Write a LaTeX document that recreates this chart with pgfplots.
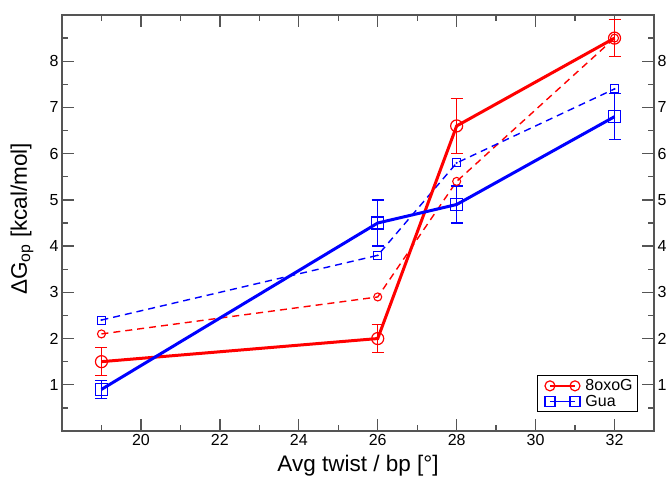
\documentclass[border=0pt]{standalone}
\usepackage{pgfplots}
\pgfplotsset{compat=1.18}
\usepackage{fontspec}
\setmainfont{Liberation Sans}
\definecolor{axgray}{HTML}{555555}
\begin{document}
\begin{tikzpicture}[x=1pt,y=1pt]
\useasboundingbox (0,0) rectangle (670,478);
\pgfplotsset{
  common/.style={
    at={(62pt,47pt)}, anchor=south west, scale only axis,
    width=592pt, height=416pt,
    xmin=18, xmax=33, ymin=0, ymax=9,
    /pgf/number format/assume math mode=true,
    tick label style={font=\fontsize{16}{16}\selectfont},
  }
}
\begin{axis}[common,
  xtick={20,22,...,32}, minor xtick={19,21,...,33},
  ytick={1,...,8}, minor ytick={0.5,1.5,...,8.5},
  tick align=inside, tick pos=both, yticklabel pos=left, xticklabel pos=lower,
  major tick length=12pt, minor tick length=6pt,
  axis line style={axgray, line width=1.3pt},
  every tick/.style={axgray, line width=1.3pt},
  minor tick style={axgray, line width=1.3pt},
  xlabel={Avg twist / bp [°]},
  ylabel={ΔG\textsubscript{op} [kcal/mol]},
  label style={font=\fontsize{22.5}{22.5}\selectfont},
  xlabel style={at={(axis description cs:0.5,0)}, anchor=base, yshift=-41pt},
  ylabel style={at={(axis description cs:0,0.51)}, anchor=center, yshift=40pt},
  legend style={at={(axis description cs:0.973,0.045)}, anchor=south east,
    draw=black, line width=0.8pt, font=\fontsize{16}{16}\selectfont,
    inner xsep=3pt, inner ysep=2pt, row sep=-1pt, cells={anchor=west}},
  legend image code/.code={\path (0pt,0pt) (40pt,0pt); \draw[#1, line width=1.5pt, mark size=5pt] plot coordinates {(8pt,0pt) (33pt,0pt)};},
]
% dashed series
\addplot[red, line width=1.4pt, dash pattern=on 7pt off 5pt, mark=o, mark size=4pt,
  mark options={solid, line width=1.1pt}, forget plot]
  coordinates {(19,2.1) (26,2.9) (28,5.4) (32,8.5)};
\addplot[blue, line width=1.4pt, dash pattern=on 7pt off 5pt, mark=square, mark size=4pt,
  mark options={solid, line width=1.1pt}, forget plot]
  coordinates {(19,2.4) (26,3.8) (28,5.8) (32,7.4)};
\addplot[blue, only marks, mark=*, mark size=0.8pt, forget plot]
  coordinates {(19,2.4) (26,3.8) (28,5.8) (32,7.4)};
% solid series
\addplot[red, line width=3pt, mark=o, mark size=6pt, mark options={solid, line width=1.2pt},
  error bars/.cd, y dir=both, y explicit,
  error bar style={line width=1.3pt}, error mark options={line width=1.3pt, mark size=6pt, rotate=90}]
  table[x=x, y=y, y error=e] {
x y e
19 1.5 0.3
26 2.0 0.3
28 6.6 0.6
32 8.5 0.4
};
\addlegendentry{8oxoG}
\addplot[blue, line width=3pt, mark=square, mark size=6pt, mark options={solid, line width=1.2pt},
  error bars/.cd, y dir=both, y explicit,
  error bar style={line width=1.3pt}, error mark options={line width=1.3pt, mark size=6pt, rotate=90}]
  table[x=x, y=y, y error=e] {
x y e
19 0.9 0.2
26 4.5 0.5
28 4.9 0.4
32 6.8 0.5
};
\addlegendentry{Gua}
\end{axis}
\begin{axis}[common,
  xtick=\empty, ytick={1,...,8}, yticklabel pos=right,
  axis line style={draw=none}, major tick length=0pt, tick style={draw=none},
]
\end{axis}
\end{tikzpicture}
\end{document}
